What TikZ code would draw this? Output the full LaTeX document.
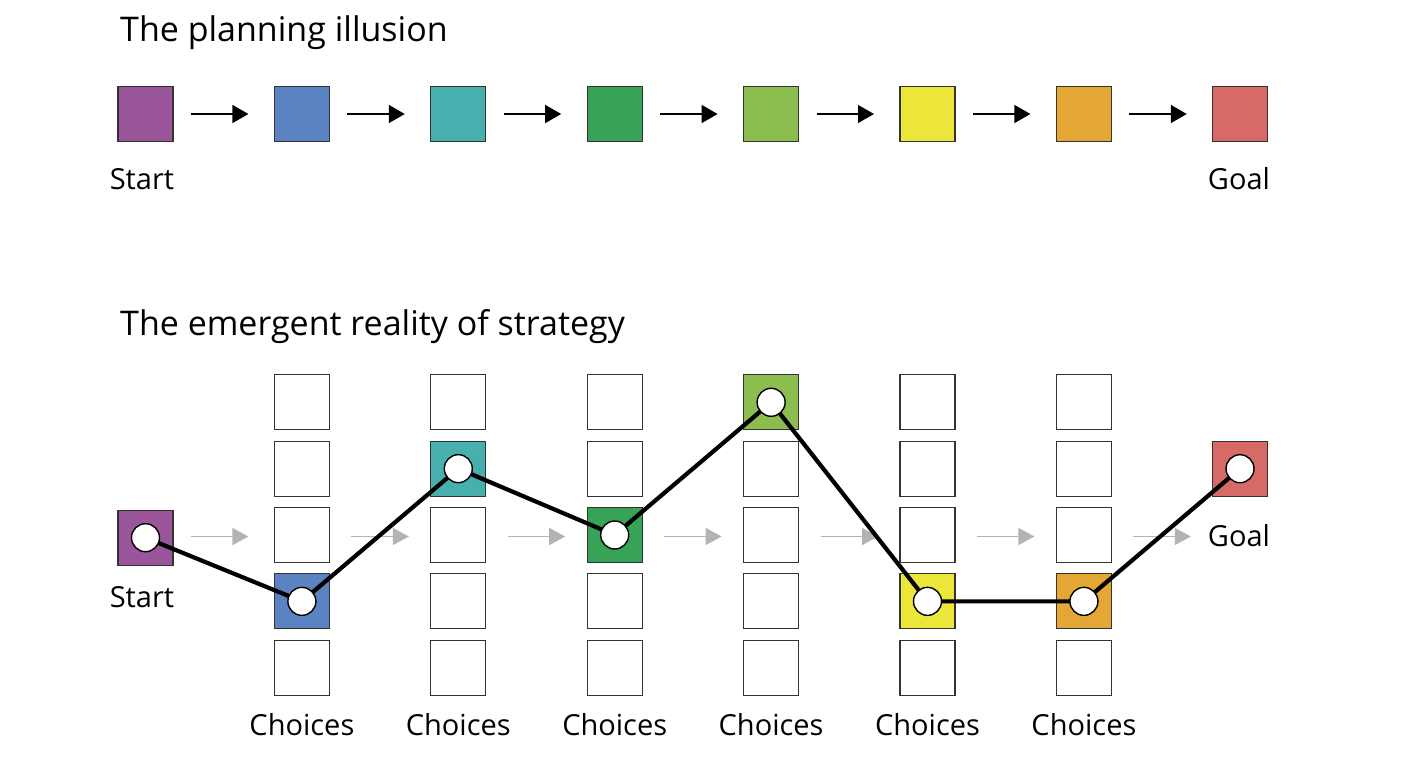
\documentclass[tikz,border=0pt]{standalone}
\usepackage{fontspec}
\setmainfont{Open Sans}
\usetikzlibrary{arrows.meta}
\definecolor{cpurple}{HTML}{9B569B}
\definecolor{cblue}{HTML}{5B82C1}
\definecolor{cteal}{HTML}{48AFAF}
\definecolor{cgreen}{HTML}{37A356}
\definecolor{clime}{HTML}{8BBD4F}
\definecolor{cyellow}{HTML}{ECE63A}
\definecolor{corange}{HTML}{E4A634}
\definecolor{cred}{HTML}{D56A67}
\definecolor{cgray}{HTML}{B3B3B3}
\begin{document}
\begin{tikzpicture}[x=1pt,y=-1pt,
  sq/.style={draw=black!80, line width=1.1pt, minimum size=55pt, inner sep=0pt, outer sep=0pt},
  dot/.style={circle, draw=black, fill=white, line width=1.4pt, minimum size=28pt, inner sep=0pt, outer sep=0pt},
  arr/.style={line width=1.4pt, -{Triangle[length=16pt,width=18pt]}},
  garr/.style={draw=cgray, line width=1.6pt, -{Triangle[length=16pt,width=17pt]}},
  route/.style={line width=4.2pt},
  lbl/.style={font=\fontsize{29}{34}\selectfont, anchor=base, inner sep=0pt},
  ttl/.style={font=\fontsize{34}{40}\selectfont, anchor=base west, inner sep=0pt}]
\useasboundingbox (0,0) rectangle (1404,777);

% titles
\node[ttl] (title1) at (120,41.7) {The planning illusion};
\node[ttl] (title2) at (120,335.7) {The emergent reality of strategy};

% top row
\foreach \c [count=\i from 0] in {cpurple,cblue,cteal,cgreen,clime,cyellow,corange,cred}
  \node[sq, fill=\c] (t\i) at ({145.5+156.4*\i},114) {};
\foreach \i [evaluate=\i as \j using int(\i+1)] in {0,...,6}
  \draw[arr] ([xshift=18pt]t\i.east) -- ([xshift=-26pt]t\j.west);
\node[lbl] (lstart1) at (142,189.3) {Start};
\node[lbl] (lgoal1) at (1239,189.3) {Goal};

% bottom grid
\foreach \k in {1,...,6}
  \foreach \r in {1,...,5}
    \node[sq, fill=white] (c\k-\r) at ({145.5+156.4*\k},{402.3+66.35*(\r-1)}) {};
\node[sq, fill=cblue]   at (c1-4) {};
\node[sq, fill=cteal]   at (c2-2) {};
\node[sq, fill=cgreen]  at (c3-3) {};
\node[sq, fill=clime]   at (c4-1) {};
\node[sq, fill=cyellow] at (c5-4) {};
\node[sq, fill=corange] at (c6-4) {};
\node[sq, fill=cpurple] (s) at (145.5,537.7) {};
\node[sq, fill=cred]    (g) at (1240,468.7) {};

\foreach \k in {1,...,6}
  \node[lbl] (ch\k) at ({145.5+156.4*\k},735.7) {Choices};
\node[lbl] (lstart2) at (142,607.3) {Start};
\node[lbl] (lgoal2) at (1239,546) {Goal};

% gray arrows
\draw[garr] ([xshift=18pt,yshift=1.2pt]s.east) -- ([xshift=-26pt,yshift=-1.5pt]c1-3.west);
\foreach \i [evaluate=\i as \j using int(\i+1)] in {1,...,5}
  \draw[garr] ([xshift=22pt,yshift=-1.5pt]c\i-3.east) -- ([xshift=-22pt,yshift=-1.5pt]c\j-3.west);
\draw[garr] ([xshift=22pt,yshift=-1.5pt]c6-3.east) -- ([xshift=134.4pt,yshift=-1.5pt]c6-3.west);

% route
\node[dot] (d0) at (s) {};
\node[dot] (d1) at (c1-4) {};
\node[dot] (d2) at (c2-2) {};
\node[dot] (d3) at (c3-3) {};
\node[dot] (d4) at (c4-1) {};
\node[dot] (d5) at (c5-4) {};
\node[dot] (d6) at (c6-4) {};
\node[dot] (d7) at (g) {};
\draw[route] (d0) -- (d1) -- (d2) -- (d3) -- (d4) -- (d5) -- (d6) -- (d7);
\end{tikzpicture}
\end{document}
